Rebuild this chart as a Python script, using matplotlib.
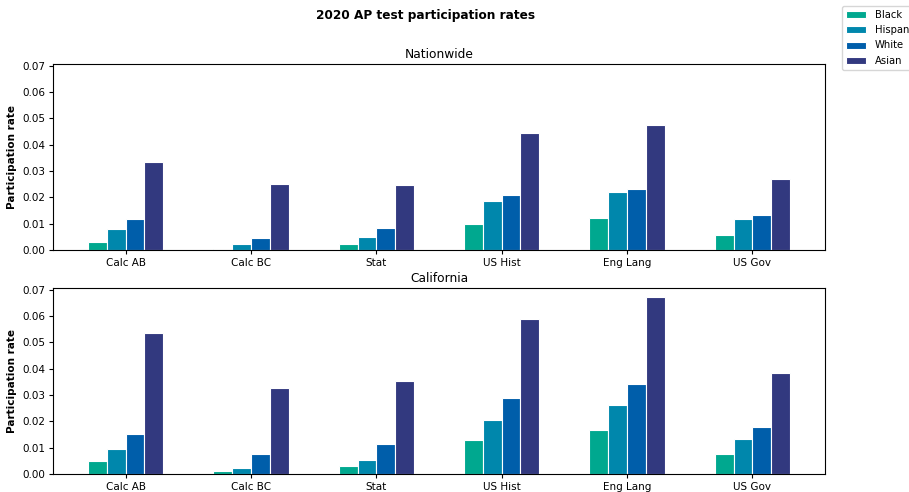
import numpy as np
import matplotlib.pyplot as plt

# AP participation rates by exam and group
exams = ["Calc AB", "Calc BC", "Stat", "US Hist", "Eng Lang", "US Gov"]
groups = ["Black", "Hispanic", "White", "Asian"]
colors = ["#00a88f", "#0087ac", "#005eaa", "#32397f"]

nation_black = [0.0032, 0.0004, 0.0022, 0.0099, 0.0120, 0.0057]
nation_hispanic = [0.0080, 0.0022, 0.0051, 0.0187, 0.0219, 0.0118]
nation_white = [0.0117, 0.0044, 0.0082, 0.0209, 0.0233, 0.0134]
nation_asian = [0.0334, 0.0249, 0.0246, 0.0446, 0.0473, 0.0271]

ca_black = [0.0050, 0.0013, 0.0032, 0.0128, 0.0168, 0.0075]
ca_hispanic = [0.0095, 0.0022, 0.0053, 0.0206, 0.0261, 0.0134]
ca_white = [0.0153, 0.0075, 0.0113, 0.0289, 0.0342, 0.0179]
ca_asian = [0.0537, 0.0328, 0.0352, 0.0590, 0.0673, 0.0384]

panels = [
    ("Nationwide", [nation_black, nation_hispanic, nation_white, nation_asian]),
    ("California", [ca_black, ca_hispanic, ca_white, ca_asian]),
]

fig = plt.figure(figsize=(9.09, 4.92), dpi=100)
ax1 = fig.add_axes([0.0583, 0.492, 0.8493, 0.378])
ax2 = fig.add_axes([0.0583, 0.0366, 0.8493, 0.378])

x = np.arange(len(exams))
width = 0.15
ymax = max(ca_asian) * 1.05

for ax, (title, series) in zip([ax1, ax2], panels):
    for i, (vals, col, name) in enumerate(zip(series, colors, groups)):
        ax.bar(x + (i - 1.5) * width, vals, width, color=col,
               edgecolor="white", linewidth=0.8, label=name)
    ax.set_xticks(x)
    ax.set_xticklabels(exams, fontsize=7.5)
    ax.tick_params(axis="y", labelsize=7.5)
    ax.tick_params(axis="both", length=3, pad=2.5)
    ax.set_ylim(0, ymax)
    ax.set_yticks(np.arange(0, 0.071, 0.01))
    ax.set_ylabel("Participation rate", fontsize=7.5, fontweight="bold")
    ax.set_title(title, fontsize=8.8, pad=4)

fig.suptitle("2020 AP test participation rates", fontsize=8.7,
             fontweight="bold", x=426 / 909, y=0.982)

handles, labels = ax1.get_legend_handles_labels()
fig.legend(handles, labels, loc="upper left",
           bbox_to_anchor=(837 / 909, 1 - 1 / 492), fontsize=7.2,
           borderpad=0.35, handletextpad=0.9, labelspacing=0.55)

plt.savefig("out.png", dpi=100)
plt.close()
